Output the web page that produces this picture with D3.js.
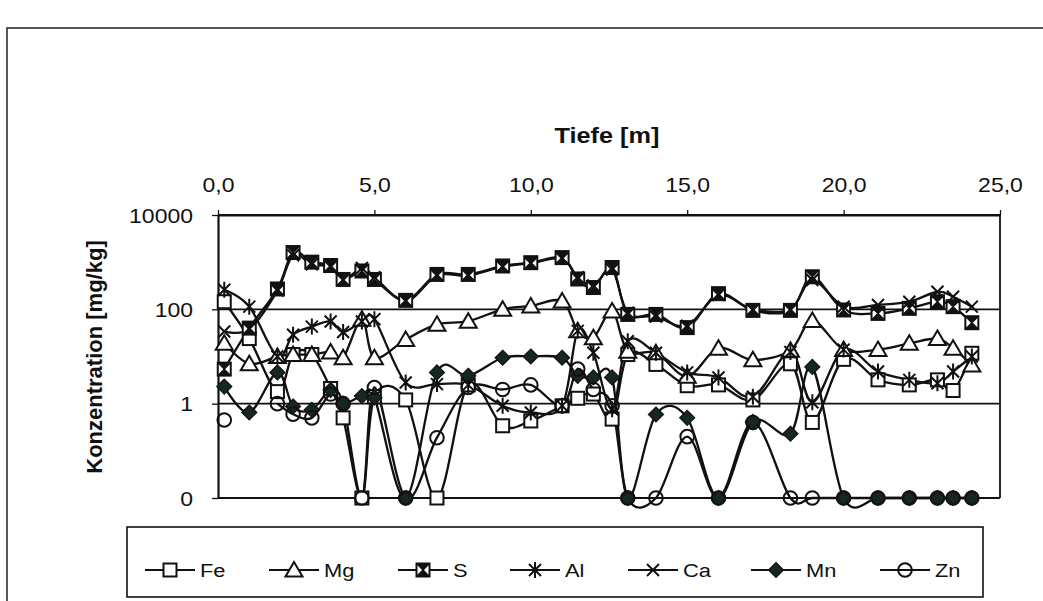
<!DOCTYPE html>
<html><head><meta charset="utf-8">
<script src="https://cdn.jsdelivr.net/npm/d3@7"></script>
<style>
body{margin:0;background:#fff}
svg{display:block}
text{font-family:"Liberation Sans",Arial,sans-serif;fill:#111}
</style>
</head><body>
<svg width="1043" height="601"></svg>
<script>
// ---------- data ----------
const depth = [0.2, 1.0, 1.9, 2.4, 3.0, 3.6, 4.0, 4.6, 5.0, 6.0, 7.0, 8.0, 9.1, 10.0, 11.0, 11.5, 12.0, 12.6, 13.1, 14.0, 15.0, 16.0, 17.1, 18.3, 19.0, 20.0, 21.1, 22.1, 23.0, 23.5, 24.1];
const fe = [145, 24, 1.8, 11, 11, 2.1, 0.5, 0.01, 1.4, 1.2, 0.01, 2.5, 0.34, 0.43, 0.9, 1.3, 1.6, 0.47, 11, 6.8, 2.4, 2.5, 1.2, 7, 0.4, 8.7, 3.2, 2.5, 3.2, 1.9, 11.7];
const mg = [19, 7, 10, 11, 11, 12.5, 9.4, 62, 9.4, 23, 48, 56, 100, 118, 150, 35, 25, 92, 13, 12, 3.8, 15, 8.5, 13.5, 58, 14, 14, 19, 24, 15, 6.6];
const s  = [5.4, 40, 270, 1600, 1000, 850, 430, 650, 430, 155, 550, 550, 830, 975, 1250, 440, 290, 770, 78, 78, 41, 215, 95, 95, 490, 97, 82, 105, 145, 114, 52];
const al = [260, 114, 10, 29, 43, 55, 33, 55, 62, 2.8, 2.6, 2.5, 0.9, 0.65, 0.9, 35, 12, 0.76, 21, 12, 4.6, 3.6, 1.4, 12.5, 1.07, 14, 4.8, 3.2, 2.7, 4.8, 10];
const ca = [34, 38, 250, 1400, 900, 800, 420, 750, 480, 150, 520, 520, 800, 950, 1200, 480, 320, 700, 85, 70, 45, 200, 100, 100, 420, 114, 124, 145, 236, 185, 114];
const mn = [2.3, 0.65, 4.6, 0.87, 0.74, 1.95, 1.0, 1.45, 1.35, 0.01, 4.6, 3.9, 9.4, 10, 9.4, 3.9, 3.6, 3.6, 0.01, 0.59, 0.5, 0.01, 0.41, 0.23, 6, 0.01, 0.01, 0.01, 0.01, 0.01, 0.01];
const zn = [0.45, null, 1.0, 0.6, 0.5, 1.6, 1.0, 0.01, 2.2, 0.01, 0.19, 2.2, 2.0, 2.5, 0.9, 5.4, 2.0, 0.9, 0.01, 0.01, 0.2, 0.01, 0.4, 0.01, 0.01, 0.01, 0.01, 0.01, 0.01, 0.01, 0.01];
const seriesNames = ["Fe", "Mg", "S", "Al", "Ca", "Mn", "Zn"];
const seriesValues = [fe, mg, s, al, ca, mn, zn];
const xTicks = [0, 5, 10, 15, 20, 25];
const yTicks = [0.01, 1, 100, 10000];
const yTickLabels = ["0", "1", "100", "10000"];
const xTitle = "Tiefe [m]";
const yTitle = "Konzentration [mg/kg]";

// ---------- layout ----------
const svg = d3.select("svg");
const plot = {left: 218, right: 1000, top: 215, bottom: 498};
const SX = 1.15;           // horizontal stretch of the scanned lettering
const INK = "#111";
const DARK = "#15281e";
const x = d3.scaleLinear().domain([0, 25]).range([plot.left, plot.right]);
const y = d3.scaleLog().domain([0.01, 10000]).range([plot.bottom, plot.top]);

// outer chart frame
svg.append("rect").attr("x", 7).attr("y", 28).attr("width", 1100).attr("height", 700)
  .attr("fill", "none").attr("stroke", "#222").attr("stroke-width", 1.5);

// gridlines + plot border
svg.append("g").selectAll("line").data(yTicks).join("line")
  .attr("x1", plot.left).attr("x2", plot.right)
  .attr("y1", d => y(d)).attr("y2", d => y(d))
  .attr("stroke", INK).attr("stroke-width", 1.8);
svg.append("line").attr("x1", plot.right).attr("x2", plot.right)
  .attr("y1", plot.top).attr("y2", plot.bottom).attr("stroke", INK).attr("stroke-width", 1.8);

function stretchText(g) {
  g.selectAll("text").each(function () {
    const t = d3.select(this);
    const tx = +t.attr("x") || 0, ty = +t.attr("y") || 0;
    t.attr("x", 0).attr("y", 0).attr("transform", `translate(${tx},${ty}) scale(${SX},1)`);
  });
}

// top x axis
const gx = svg.append("g").attr("transform", `translate(0,${plot.top})`)
  .call(d3.axisTop(x).tickValues(xTicks).tickSize(5).tickSizeOuter(0).tickPadding(18)
    .tickFormat(d => d.toFixed(1).replace(".", ",")));
gx.attr("font-size", 20).attr("font-family", '"Liberation Sans",Arial,sans-serif');
gx.select(".domain").attr("stroke", INK).attr("stroke-width", 2.2);
gx.selectAll(".tick line").attr("stroke", INK).attr("stroke-width", 1.3);
gx.selectAll("text").attr("fill", INK);
stretchText(gx);

// left y axis
const gy = svg.append("g").attr("transform", `translate(${plot.left},0)`)
  .call(d3.axisLeft(y).tickValues(yTicks).tickSize(6).tickSizeOuter(0).tickPadding(19)
    .tickFormat((d, i) => yTickLabels[i]));
gy.attr("font-size", 20).attr("font-family", '"Liberation Sans",Arial,sans-serif');
gy.select(".domain").attr("stroke", INK).attr("stroke-width", 2.2);
gy.selectAll(".tick line").attr("stroke", INK).attr("stroke-width", 1.3);
gy.selectAll("text").attr("fill", INK).attr("dy", "0.36em");
stretchText(gy);

// titles
svg.append("text").attr("transform", `translate(607,143) scale(${SX},1)`)
  .attr("text-anchor", "middle").attr("font-size", 22).attr("font-weight", "bold").text(xTitle);
svg.append("text").attr("transform", "translate(102,357) rotate(-90)")
  .attr("text-anchor", "middle").attr("font-size", 22).attr("font-weight", "bold").text(yTitle);

// ---------- markers ----------
function drawMarker(g, name) {
  const sw = 2;
  switch (name) {
    case "Fe":
      g.append("rect").attr("x", -6.5).attr("y", -6.5).attr("width", 13).attr("height", 13)
        .attr("fill", "#fff").attr("stroke", INK).attr("stroke-width", sw); break;
    case "Mg":
      g.append("path").attr("d", "M0,-8L8.5,6.5L-8.5,6.5Z")
        .attr("fill", "#fff").attr("stroke", INK).attr("stroke-width", sw); break;
    case "S":
      g.append("rect").attr("x", -6.5).attr("y", -6.5).attr("width", 13).attr("height", 13)
        .attr("fill", "#fff").attr("stroke", INK).attr("stroke-width", sw);
      g.append("path").attr("d", "M-6.5,-6.5L6.5,-6.5L0,0Z M-6.5,6.5L6.5,6.5L0,0Z").attr("fill", INK);
      g.append("path").attr("d", "M-6.5,-6.5L6.5,6.5M6.5,-6.5L-6.5,6.5").attr("stroke", INK).attr("stroke-width", 1.4); break;
    case "Al":
      g.append("path").attr("d", "M-6,-6L6,6M6,-6L-6,6M0,-8L0,8")
        .attr("stroke", INK).attr("stroke-width", 2).attr("fill", "none"); break;
    case "Ca":
      g.append("path").attr("d", "M-6,-6L6,6M6,-6L-6,6")
        .attr("stroke", INK).attr("stroke-width", 2).attr("fill", "none"); break;
    case "Mn":
      g.append("path").attr("d", "M0,-7.5L7.5,0L0,7.5L-7.5,0Z")
        .attr("fill", DARK).attr("stroke", INK).attr("stroke-width", 1.2); break;
    case "Zn":
      g.append("circle").attr("r", 6.8)
        .attr("fill", "none").attr("stroke", INK).attr("stroke-width", sw); break;
  }
}

const series = seriesNames.map((name, k) => ({
  name, pts: depth.map((d, i) => ({d, v: seriesValues[k][i]}))
}));

const line = d3.line()
  .defined(p => p.v != null)
  .x(p => x(p.d)).y(p => y(p.v))
  .curve(d3.curveCardinal.tension(0));

const gLines = svg.append("g");
series.forEach(sr => {
  gLines.append("path").attr("d", line(sr.pts))
    .attr("fill", "none").attr("stroke", INK).attr("stroke-width", 2.3);
});
const gMarks = svg.append("g");
series.forEach(sr => {
  sr.pts.filter(p => p.v != null).forEach(p => {
    const g = gMarks.append("g").attr("transform", `translate(${x(p.d)},${y(p.v)})`);
    drawMarker(g, sr.name);
  });
});

// ---------- legend ----------
svg.append("rect").attr("x", 127).attr("y", 527).attr("width", 856).attr("height", 70)
  .attr("fill", "#fff").attr("stroke", INK).attr("stroke-width", 1.6);
const legendX = [145, 269, 398, 510, 628, 751, 880];
const legendY = 570;
seriesNames.forEach((name, i) => {
  const x0 = legendX[i];
  svg.append("line").attr("x1", x0).attr("x2", x0 + 50).attr("y1", legendY).attr("y2", legendY)
    .attr("stroke", INK).attr("stroke-width", 2.2);
  drawMarker(svg.append("g").attr("transform", `translate(${x0 + 25},${legendY})`), name);
  svg.append("text").attr("transform", `translate(${x0 + 55},${legendY + 7}) scale(${SX},1)`)
    .attr("font-size", 19).text(name);
});
</script>
</body></html>
